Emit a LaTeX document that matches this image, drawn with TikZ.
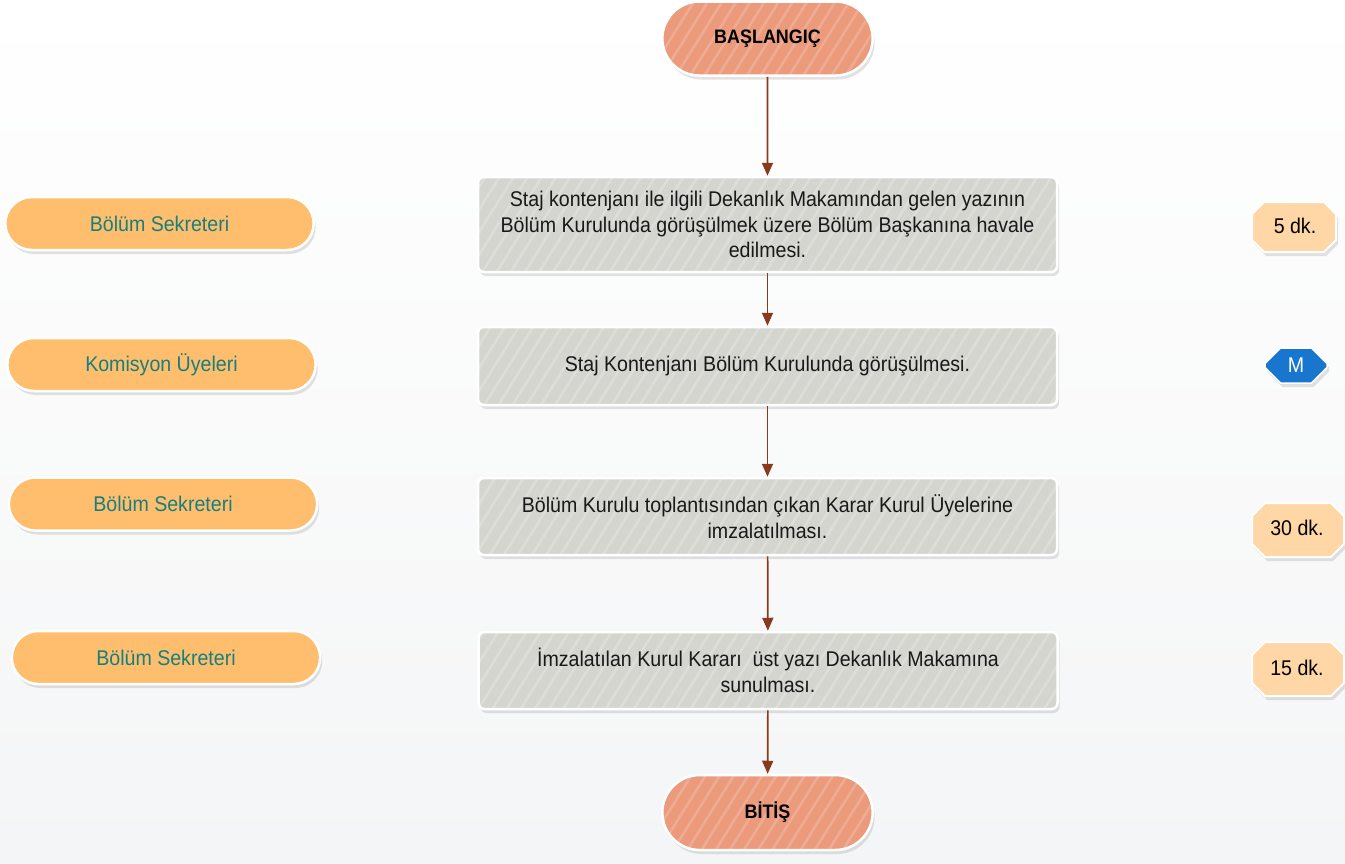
\documentclass[tikz,border=0pt]{standalone}
\usepackage{fontspec}
\setmainfont[FakeStretch=0.92]{Liberation Sans}
\usetikzlibrary{arrows.meta,shapes.misc,shadows,patterns.meta}
\definecolor{bgmid}{HTML}{E6E8EC}
\definecolor{bgbot}{HTML}{F4F5F6}
\definecolor{boxgrey}{HTML}{D3D5CE}
\definecolor{salmon}{HTML}{EC9A7C}
\definecolor{pillor}{HTML}{FFBD6E}
\definecolor{peach}{HTML}{FFD7A6}
\definecolor{tealtxt}{HTML}{15807E}
\definecolor{arrbrown}{HTML}{8A3A1C}
\definecolor{mblue}{HTML}{1976CF}
\newcommand\myfs{\fontsize{21.3}{25.5}\selectfont}
\tikzset{
  shad/.style={drop shadow={shadow xshift=2pt,shadow yshift=-4pt,opacity=0.18,fill=black!60}},
  stepbox/.style={rounded corners=6pt, draw=white, line width=2.5pt, minimum width=579pt,
    minimum height=77pt, align=center, font=\myfs, text=black!90, shad,
    preaction={fill=boxgrey}, pattern={Lines[angle=58,distance=12pt,line width=2.5pt]},
    pattern color=white!22!boxgrey},
  term/.style={rounded rectangle, draw=white, line width=2.5pt, minimum width=217pt,
    minimum height=74pt, font=\fontsize{19.5}{22}\selectfont\bfseries, text=black, shad,
    preaction={fill=salmon}, pattern={Lines[angle=58,distance=12pt,line width=2.5pt]},
    pattern color=white!18!salmon},
  actor/.style={rounded rectangle, draw=white, line width=2.5pt, minimum width=315pt,
    minimum height=53pt, fill=pillor, font=\myfs, text=tealtxt, shad},
  octshape/.style={draw=white, line width=2pt, fill=peach, shad},
  timelbl/.style={font=\myfs, text=black, inner sep=0pt},
  flow/.style={draw=arrbrown, line width=1.7pt, -{Triangle[width=11pt,length=13pt]}, arrbrown}
}
\begin{document}
\begin{tikzpicture}[x=1pt,y=-1pt]
\shade[top color=white, middle color=bgmid, bottom color=bgbot] (0,0) rectangle (1345,863);
\useasboundingbox (0,0) rectangle (1345,863);

\node[term] (start) at (767.5,38.5) {BAŞLANGIÇ};
\node[stepbox, minimum height=95pt] (s1) at (767.5,224.5) {Staj kontenjanı ile ilgili Dekanlık Makamından gelen yazının\\ Bölüm Kurulunda görüşülmek üzere Bölüm Başkanına havale\\ edilmesi.};
\node[stepbox, minimum height=78pt] (s2) at (767.5,366) {Staj Kontenjanı Bölüm Kurulunda görüşülmesi.};
\node[stepbox] (s3) at (767.5,516.5) {Bölüm Kurulu toplantısından çıkan Karar Kurul Üyelerine\\ imzalatılması.};
\node[stepbox] (s4) at (768,670.5) {İmzalatılan Kurul Kararı\ \ üst yazı Dekanlık Makamına\\ sunulması.};
\node[term, minimum height=75pt] (end) at (767.5,812.5) {BİTİŞ};

\draw[flow] (start) -- (s1);
\draw[flow] (s1) -- (s2);
\draw[flow] (s2) -- (s3);
\draw[flow] (s3) -- (s4);
\draw[flow] (s4) -- (end);

\node[actor] (a1) at (159.5,223.5) {Bölüm Sekreteri};
\node[actor] (a2) at (161.5,364.5) {Komisyon Üyeleri};
\node[actor] (a3) at (163,504) {Bölüm Sekreteri};
\node[actor] (a4) at (166,657.5) {Bölüm Sekreteri};

% time octagons
\path[octshape, shift={(1294,227)}] (-42,-13) -- (-30,-25) -- (30,-25) -- (42,-13) -- (42,13) -- (30,25) -- (-30,25) -- (-42,13) -- cycle;
\node[timelbl] (t1) at (1295,226) {5 dk.};
\node[chamfered rectangle, chamfered rectangle xsep=17pt, chamfered rectangle ysep=17.5pt,
  draw=white, line width=1.5pt, fill=mblue, minimum width=62pt, minimum height=35pt, inner sep=0pt,
  font=\myfs, text=white, shad] (m) at (1296,365.5) {M};
\path[octshape, shift={(1298,530)}] (-46,-14) -- (-33,-27) -- (33,-27) -- (46,-14) -- (46,14) -- (33,27) -- (-33,27) -- (-46,14) -- cycle;
\node[timelbl] (t3) at (1297,528) {30 dk.};
\path[octshape, shift={(1298,669)}] (-46,-14) -- (-33,-27) -- (33,-27) -- (46,-14) -- (46,14) -- (33,27) -- (-33,27) -- (-46,14) -- cycle;
\node[timelbl] (t4) at (1297,668) {15 dk.};
\end{tikzpicture}
\end{document}
